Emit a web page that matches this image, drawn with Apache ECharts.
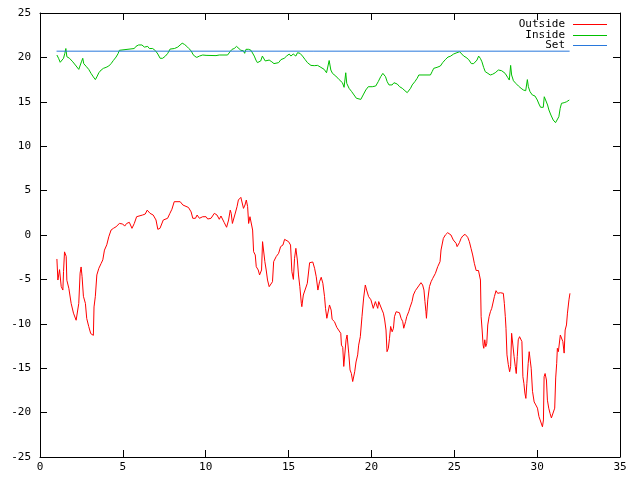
<!DOCTYPE html>
<html>
<head>
    <meta charset="utf-8">
    <script src="https://cdn.jsdelivr.net/npm/echarts@6/dist/echarts.min.js"></script>
    <style>
        html, body { margin: 0; padding: 0; background: #fff; }
    </style>
</head>
<body>
    <div id="main" style="width: 640px;height: 480px;"></div>
    <script>
        // axis ticks
        var xTicks = [0, 5, 10, 15, 20, 25, 30, 35];
        var yTicks = [-25, -20, -15, -10, -5, 0, 5, 10, 15, 20, 25];

        // Outside temperature
        var outsideX = [1.02, 1.08, 1.18, 1.28, 1.38, 1.42, 1.48, 1.58, 1.62, 1.74, 1.88, 2.02, 2.18, 2.28, 2.34, 2.42, 2.48, 2.54, 2.62, 2.74,
            2.82, 2.94, 3.06, 3.22, 3.26, 3.34, 3.43, 3.55, 3.69, 3.79, 3.89, 4.03, 4.15, 4.29, 4.43, 4.59, 4.79, 4.99, 5.11, 5.23,
            5.39, 5.49, 5.55, 5.69, 5.83, 5.91, 6.19, 6.35, 6.47, 6.64, 6.83, 7.0, 7.11, 7.24, 7.32, 7.44, 7.5, 7.7, 7.84, 7.96,
            8.1, 8.22, 8.46, 8.62, 8.96, 9.12, 9.22, 9.38, 9.48, 9.62, 9.82, 10.02, 10.12, 10.32, 10.52, 10.68, 10.82, 10.92, 11.02, 11.12,
            11.26, 11.38, 11.48, 11.54, 11.61, 11.68, 11.77, 11.89, 11.97, 12.12, 12.22, 12.28, 12.37, 12.45, 12.53, 12.59, 12.67, 12.73, 12.83, 12.89,
            12.99, 13.05, 13.17, 13.25, 13.37, 13.43, 13.49, 13.57, 13.65, 13.73, 13.83, 13.93, 14.03, 14.1, 14.25, 14.4, 14.52, 14.66, 14.76, 14.86,
            15.0, 15.12, 15.2, 15.29, 15.36, 15.44, 15.53, 15.6, 15.68, 15.77, 15.8, 15.89, 16.01, 16.13, 16.27, 16.46, 16.57, 16.67, 16.77, 16.87,
            16.97, 17.07, 17.17, 17.23, 17.31, 17.39, 17.47, 17.57, 17.63, 17.77, 17.91, 18.03, 18.15, 18.19, 18.27, 18.33, 18.41, 18.47, 18.53, 18.63,
            18.71, 18.79, 18.87, 18.93, 18.99, 19.07, 19.17, 19.23, 19.33, 19.43, 19.53, 19.63, 19.71, 19.83, 19.97, 20.11, 20.24, 20.32, 20.38, 20.44,
            20.54, 20.64, 20.72, 20.8, 20.88, 20.94, 21.02, 21.09, 21.16, 21.25, 21.33, 21.39, 21.49, 21.59, 21.69, 21.79, 21.89, 21.95, 22.06, 22.13,
            22.25, 22.33, 22.45, 22.53, 22.65, 22.77, 22.85, 22.99, 23.09, 23.17, 23.23, 23.29, 23.32, 23.4, 23.5, 23.6, 23.7, 23.86, 24.0, 24.14,
            24.2, 24.34, 24.46, 24.6, 24.66, 24.8, 24.94, 25.11, 25.17, 25.31, 25.41, 25.51, 25.65, 25.81, 25.91, 26.01, 26.11, 26.21, 26.32, 26.46,
            26.52, 26.58, 26.62, 26.68, 26.74, 26.78, 26.84, 26.9, 26.96, 27.02, 27.1, 27.18, 27.26, 27.34, 27.42, 27.52, 27.62, 27.78, 27.86, 27.96,
            28.02, 28.08, 28.12, 28.18, 28.26, 28.34, 28.4, 28.46, 28.55, 28.61, 28.68, 28.74, 28.8, 28.86, 28.94, 29.02, 29.08, 29.14, 29.2, 29.26,
            29.32, 29.38, 29.46, 29.52, 29.58, 29.64, 29.72, 29.82, 29.92, 30.02, 30.11, 30.18, 30.26, 30.32, 30.38, 30.42, 30.48, 30.56, 30.62, 30.7,
            30.78, 30.86, 30.98, 31.06, 31.12, 31.18, 31.22, 31.28, 31.34, 31.4, 31.46, 31.55, 31.63, 31.69, 31.77, 31.83, 31.92, 31.98];
        var outsideY = [-2.7, -5.07, -3.9, -5.8, -6.2, -4.1, -1.9, -2.4, -5.1, -6.0, -7.7, -8.8, -9.6, -9.8, -7.7, -4.3, -3.6, -4.7, -6.9, -7.7,
            -9.4, -10.3, -11.1, -11.3, -8.1, -6.9, -4.5, -3.75, -3.2, -2.8, -1.7, -1.1, -0.2, 0.56, 0.75, 0.93, 1.3, 1.24, 1.0, 1.3,
            1.43, 1.3, 0.75, 1.3, 2.06, 2.25, 2.25, 2.36, 2.8, 2.44, 2.25, 1.69, 0.64, 0.75, 0.64, 1.69, 1.88, 1.88, 2.44, 2.9,
            3.75, 3.94, 3.75, 3.38, 3.1, 2.6, 1.88, 1.88, 2.25, 1.88, 2.06, 2.06, 1.8, 1.88, 2.44, 2.25, 1.77, 2.14, 2.06, 1.39,
            0.87, 1.69, 2.8, 2.44, 1.3, 1.5, 2.36, 3.19, 3.94, 4.24, 4.39, 3.0, 3.38, 3.94, 3.19, 1.3, 2.06, 2.25, 0.56, -1.88,
            -2.25, -3.57, -3.94, -4.5, -3.94, -0.75, -0.94, -3.0, -3.94, -5.07, -5.82, -5.74, -5.26, -3.0, -2.44, -2.06, -1.31, -1.13, -0.49, -0.38,
            -0.75, -1.13, -4.13, -5.0, -2.63, -1.5, -2.82, -4.5, -5.82, -7.7, -8.07, -6.76, -6.87, -5.44, -3.12, -3.04, -3.75, -4.7, -6.2, -5.26,
            -4.76, -5.44, -6.94, -8.26, -9.38, -9.2, -7.88, -8.45, -9.5, -9.76, -10.4, -10.5, -11.07, -12.4, -12.65, -14.8, -15.0, -11.8, -11.26, -13.3,
            -15.2, -15.6, -16.5, -16.7, -15.4, -14.3, -13.5, -12.4, -11.45, -9.2, -7.1, -5.63, -6.2, -6.94, -7.3, -8.26, -7.5, -7.7, -8.26, -7.5,
            -7.5, -8.45, -8.8, -9.57, -10.7, -13.14, -12.76, -11.63, -10.3, -10.9, -10.5, -9.2, -8.64, -8.52, -8.75, -9.38, -9.76, -10.5, -9.76, -9.2,
            -8.64, -8.14, -7.5, -6.76, -6.27, -6.1, -5.74, -5.37, -5.63, -6.2, -7.5, -8.64, -9.38, -7.3, -5.82, -5.26, -4.88, -4.32, -3.57, -3.0,
            -1.69, -0.38, 0.0, 0.26, 0.38, 0.0, -0.56, -0.94, -1.31, -0.86, -0.38, -0.11, 0.08, -0.26, -0.75, -1.5, -2.25, -3.19, -4.0, -4.0,
            -3.94, -5.07, -9.2, -10.7, -12.4, -12.76, -11.8, -12.57, -12.2, -10.13, -9.2, -8.64, -8.26, -8.14, -6.94, -6.27, -6.57, -6.5, -6.38, -6.57,
            -7.7, -9.2, -10.5, -13.5, -14.6, -15.4, -14.8, -11.07, -11.26, -13.7, -14.8, -15.6, -13.7, -11.8, -11.45, -11.63, -12.0, -15.96, -16.7, -17.8,
            -18.4, -16.7, -14.45, -13.14, -14.08, -15.0, -17.6, -18.8, -19.14, -19.5, -20.45, -20.83, -21.0, -21.6, -20.83, -15.96, -15.6, -16.33, -18.6, -19.5,
            -20.1, -20.6, -20.6, -19.5, -16.1, -14.45, -12.76, -13.14, -13.3, -11.26, -11.26, -12.0, -13.3, -10.7, -10.13, -8.8, -7.3, -6.57];

        // Inside temperature
        var insideX = [1.02, 1.12, 1.22, 1.34, 1.42, 1.5, 1.56, 1.62, 1.78, 1.98, 2.18, 2.34, 2.42, 2.5, 2.58, 2.64, 2.78, 2.94, 3.08, 3.22,
            3.34, 3.43, 3.55, 3.69, 3.83, 3.99, 4.15, 4.29, 4.43, 4.59, 4.71, 4.79, 4.89, 5.69, 5.79, 5.95, 6.15, 6.3, 6.4, 6.5,
            6.6, 6.8, 6.97, 7.11, 7.25, 7.4, 7.57, 7.71, 7.85, 8.11, 8.31, 8.42, 8.58, 8.72, 8.86, 8.98, 9.12, 9.22, 9.32, 9.46,
            9.62, 9.82, 9.92, 10.02, 10.62, 10.82, 11.32, 11.47, 11.59, 11.72, 11.86, 11.98, 12.12, 12.27, 12.35, 12.43, 12.59, 12.73, 12.83, 12.93,
            13.03, 13.12, 13.22, 13.32, 13.42, 13.51, 13.59, 13.67, 13.83, 13.99, 14.12, 14.23, 14.4, 14.54, 14.74, 14.88, 15.04, 15.14, 15.28, 15.44,
            15.54, 15.69, 15.84, 16.0, 16.14, 16.35, 16.55, 16.75, 16.95, 17.15, 17.29, 17.37, 17.45, 17.55, 17.65, 17.85, 18.05, 18.25, 18.35, 18.45,
            18.51, 18.65, 18.81, 18.95, 19.09, 19.21, 19.36, 19.5, 19.66, 19.81, 20.05, 20.26, 20.41, 20.56, 20.69, 20.85, 20.95, 21.06, 21.25, 21.36,
            21.46, 21.56, 21.7, 21.86, 22.02, 22.16, 22.26, 22.36, 22.46, 22.62, 22.76, 22.86, 23.56, 23.66, 23.76, 23.96, 24.16, 24.3, 24.46, 24.62,
            24.76, 24.96, 25.16, 25.32, 25.43, 25.57, 25.71, 25.87, 26.03, 26.17, 26.37, 26.47, 26.57, 26.67, 26.77, 26.87, 27.03, 27.17, 27.31, 27.47,
            27.66, 27.86, 28.07, 28.22, 28.32, 28.4, 28.46, 28.57, 28.71, 28.87, 29.03, 29.17, 29.31, 29.41, 29.47, 29.57, 29.71, 29.87, 30.01, 30.11,
            30.21, 30.37, 30.43, 30.51, 30.63, 30.71, 30.83, 30.97, 31.11, 31.23, 31.31, 31.39, 31.47, 31.63, 31.77, 31.94];
        var insideY = [20.27, 19.9, 19.45, 19.3, 19.9, 20.46, 21.0, 20.08, 19.9, 19.5, 19.03, 18.65, 18.58, 19.5, 19.9, 19.3, 19.0, 18.65, 18.2, 17.8,
            17.5, 17.8, 18.27, 18.58, 18.77, 18.88, 19.03, 19.3, 19.66, 20.04, 20.42, 20.8, 21.0, 21.0, 21.24, 21.4, 21.4, 21.16, 21.0, 21.24,
            21.0, 21.0, 20.75, 20.38, 19.9, 19.9, 20.15, 20.46, 20.94, 21.0, 21.16, 21.35, 21.6, 21.46, 21.24, 21.0, 20.75, 20.38, 20.15, 20.0,
            20.15, 20.27, 20.38, 20.23, 20.2, 20.27, 20.27, 20.65, 20.91, 21.0, 21.24, 21.1, 20.8, 20.75, 20.46, 20.91, 20.91, 20.8, 20.6, 20.15,
            19.7, 19.41, 19.3, 19.6, 20.15, 20.0, 19.6, 19.75, 19.7, 19.5, 19.3, 19.26, 19.41, 19.75, 19.9, 20.15, 20.38, 20.15, 20.38, 20.15,
            20.53, 20.46, 20.15, 19.75, 19.41, 19.1, 19.07, 19.1, 18.88, 18.65, 18.27, 18.13, 19.65, 18.58, 18.2, 17.9, 17.5, 17.15, 16.63, 18.27,
            17.08, 16.52, 16.14, 15.77, 15.4, 15.2, 15.27, 15.77, 16.33, 16.7, 16.7, 16.78, 17.27, 17.83, 18.2, 17.83, 17.27, 16.9, 16.9, 17.15,
            17.27, 17.0, 16.7, 16.52, 16.25, 16.03, 16.14, 16.52, 16.9, 17.27, 17.65, 18.02, 18.02, 18.39, 18.77, 18.88, 19.03, 19.41, 19.75, 20.04,
            20.12, 20.38, 20.53, 20.64, 20.46, 20.15, 20.0, 19.75, 19.3, 19.3, 19.7, 20.15, 19.9, 19.5, 18.88, 18.39, 18.2, 18.02, 18.1, 18.27,
            18.58, 18.5, 18.2, 17.75, 17.45, 19.1, 18.02, 17.37, 17.08, 16.78, 16.52, 16.33, 16.25, 17.5, 16.7, 16.14, 15.77, 15.65, 15.2, 14.75,
            14.38, 14.38, 15.57, 15.2, 14.64, 14.08, 13.51, 12.95, 12.65, 12.5, 13.32, 14.26, 14.83, 14.9, 15.0, 15.2];

        // Set point
        var setX = [1.0, 31.96];
        var setY = [20.7, 20.7];

        function pairs(xs, ys) {
            var out = [];
            for (var i = 0; i < xs.length; i++) {
                out.push([xs[i], ys[i]]);
            }
            return out;
        }

        var font = 'DejaVu Sans Mono';
        var names = ['Outside', 'Inside', 'Set'];
        var colors = ['#ff0000', '#00c000', '#2878dc'];

        var myChart = echarts.init(document.getElementById('main'));

        var legends = [];
        var legendTops = [19, 30, 40];
        for (var k = 0; k < names.length; k++) {
            legends.push({
                data: [{ name: names[k], itemStyle: { color: colors[k] } }],
                right: 33,
                top: legendTops[k],
                align: 'right',
                icon: 'rect',
                itemWidth: 34,
                itemHeight: 1,
                itemGap: 0,
                padding: 0,
                itemStyle: { color: colors[k] },
                textStyle: { fontFamily: font, fontSize: 11, color: '#000', padding: [0, 3, 0, 0] },
                selectedMode: false
            });
        }

        // frame axes: gnuplot-style box with ticks on all four sides
        function frameAxis(pos, range, labelMargin) {
            return {
                type: 'value',
                position: pos,
                min: range[0],
                max: range[range.length - 1],
                interval: 5,
                splitLine: { show: false },
                axisLine: { show: true, onZero: false, lineStyle: { color: '#000' } },
                axisTick: { show: true, inside: true, length: 7, lineStyle: { color: '#000' } },
                axisLabel: {
                    show: labelMargin !== null,
                    fontFamily: font, fontSize: 11, color: '#000',
                    margin: labelMargin || 8
                }
            };
        }

        var option = {
            animation: false,
            backgroundColor: '#fff',
            grid: { left: 40, right: 20, top: 13, bottom: 23 },
            legend: legends,
            xAxis: [
                frameAxis('bottom', xTicks, 5),
                frameAxis('top', xTicks, null)
            ],
            yAxis: [
                frameAxis('left', yTicks, 9),
                frameAxis('right', yTicks, null)
            ],
            series: [{
                name: names[0],
                type: 'line',
                showSymbol: false,
                symbol: 'none',
                itemStyle: { color: colors[0] },
                lineStyle: { width: 1, color: colors[0] },
                data: pairs(outsideX, outsideY)
            }, {
                name: names[1],
                type: 'line',
                showSymbol: false,
                symbol: 'none',
                itemStyle: { color: colors[1] },
                lineStyle: { width: 1, color: colors[1] },
                data: pairs(insideX, insideY)
            }, {
                name: names[2],
                type: 'line',
                showSymbol: false,
                symbol: 'none',
                itemStyle: { color: colors[2] },
                lineStyle: { width: 1, color: colors[2] },
                data: pairs(setX, setY)
            }]
        };

        myChart.setOption(option);
    </script>
</body>
</html>
